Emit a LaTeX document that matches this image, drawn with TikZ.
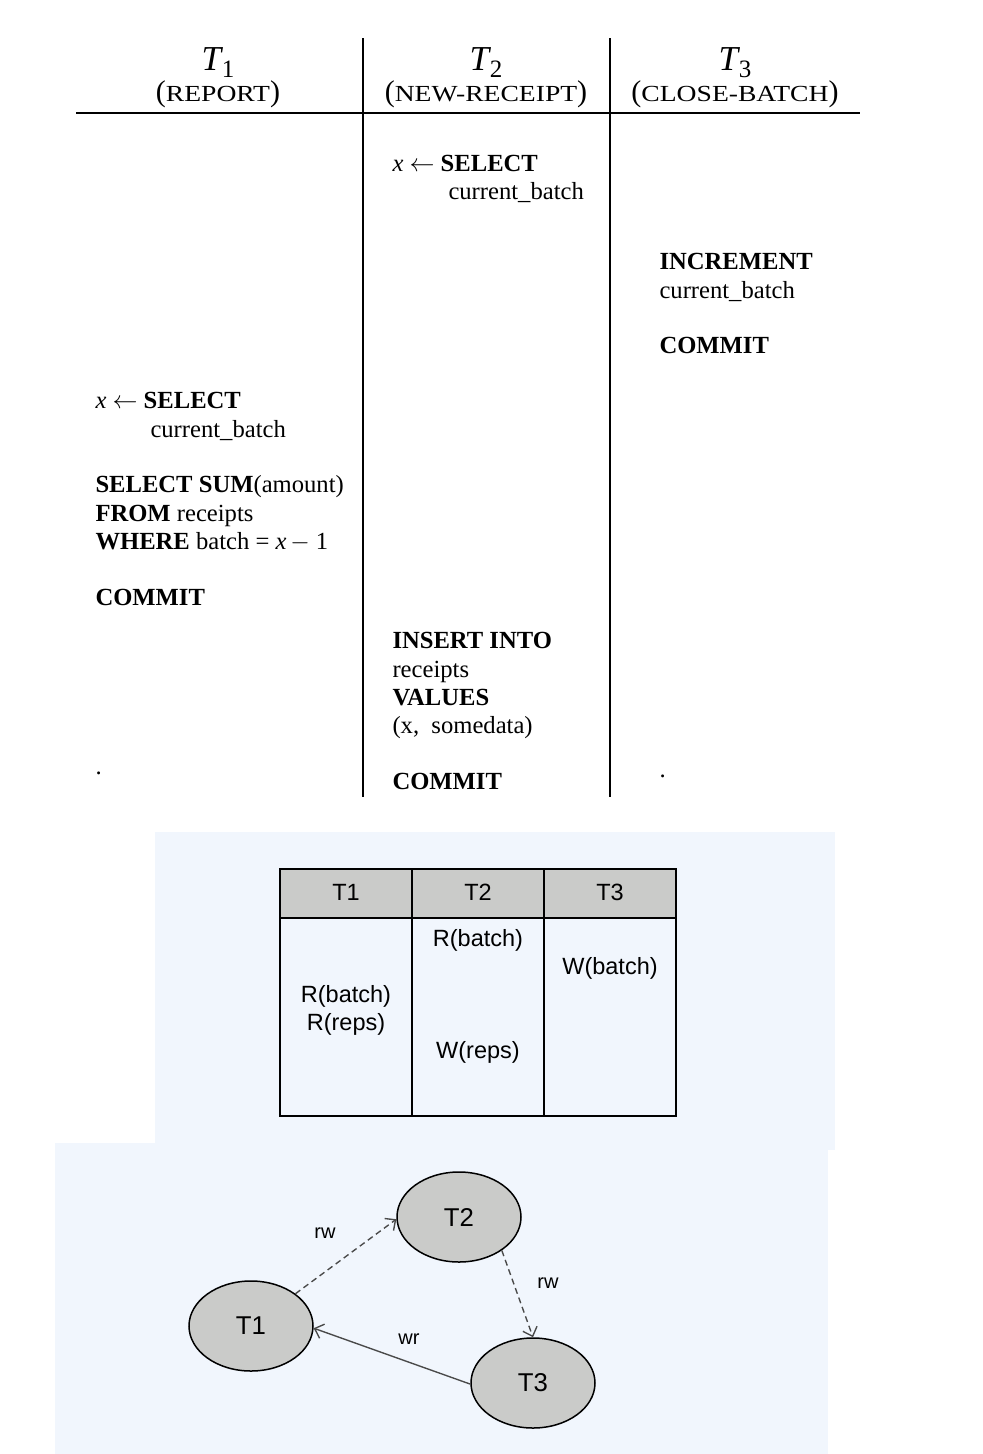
\documentclass[tikz,border=0pt]{standalone}
\usepackage{fontspec}
\setmainfont{Liberation Serif}
\setsansfont{Liberation Sans}
\newfontfamily\scfont[FakeStretch=1.2]{Liberation Serif}
\usetikzlibrary{arrows.meta,shapes.geometric}
\definecolor{bgblue}{HTML}{F1F6FD}
\definecolor{cellgray}{HTML}{CACBC9}
\definecolor{edgegray}{HTML}{4A4A4A}
\newcommand\hdrT[1]{{\fontsize{14}{14}\selectfont\textit{T}}\kern-0.6pt\raisebox{-2.8pt}{\fontsize{10}{10}\selectfont #1}}
\newcommand\hdrSC[1]{{\fontsize{12}{12}\selectfont (}{\scfont\fontsize{9.2}{9.2}\selectfont #1}{\fontsize{12}{12}\selectfont )}}
\begin{document}
\begin{tikzpicture}[x=0.4pt,y=-0.4pt,
  hdr/.style={anchor=base,inner sep=0pt,font=\fontsize{12}{12}\selectfont},
  code/.style={anchor=base west,inner sep=0pt,font=\fontsize{9.85}{11.4}\selectfont},
  rule/.style={line width=0.6pt,black},
  cell/.style={anchor=base,inner sep=0pt,font=\sffamily\fontsize{9.4}{9.4}\selectfont},
  txnode/.style={ellipse,draw=black,line width=0.6pt,fill=cellgray,minimum width=49.6pt,minimum height=36pt,inner sep=0pt,font=\sffamily\fontsize{10.3}{10.3}\selectfont},
  elabel/.style={anchor=base,inner sep=0pt,font=\sffamily\fontsize{8}{8}\selectfont},
  dep/.style={edgegray,line width=0.55pt,-{Straight Barb[length=3.2pt,width=6pt]}},
  depdash/.style={dep,dash pattern=on 2.4pt off 1.6pt}]
\useasboundingbox (0,0) rectangle (982,1454);
% ---------------- top schedule ----------------
\draw[rule] (76,113) -- (860,113);
\draw[rule] (363,38) -- (363,797);
\draw[rule] (610,38) -- (610,797);
\node[hdr] (h1) at (218,70) {\hdrT{1}};
\node[hdr] (h2) at (486,70) {\hdrT{2}};
\node[hdr] (h3) at (735,70) {\hdrT{3}};
\node[hdr] (n1) at (218,101) {\hdrSC{REPORT}};
\node[hdr] (n2) at (486,101) {\hdrSC{NEW-RECEIPT}};
\node[hdr] (n3) at (735,101) {\hdrSC{CLOSE-BATCH}};
% T2 first read
\node[code] (a1) at (392,171) {\textit{x} $\leftarrow$ \textbf{SELECT}};
\node[code] (a2) at (448,199) {current\_batch};
% T3
\node[code] (b1) at (659,269) {\textbf{INCREMENT}};
\node[code] (b2) at (659,298) {current\_batch};
\node[code] (b3) at (659,353) {\textbf{COMMIT}};
% T1
\node[code] (c1) at (95,408) {\textit{x} $\leftarrow$ \textbf{SELECT}};
\node[code] (c2) at (150,437) {current\_batch};
\node[code] (c3) at (95,492) {\textbf{SELECT SUM}(amount)};
\node[code] (c4) at (95,521) {\textbf{FROM} receipts};
\node[code] (c5) at (95,549) {\textbf{WHERE} batch = \textit{x}\kern1.5pt$-$\kern2.5pt1};
\node[code] (c6) at (95,605) {\textbf{COMMIT}};
\node[code] (c7) at (95,774) {.};
% T2 insert
\node[code] (d1) at (392,648) {\textbf{INSERT INTO}};
\node[code] (d2) at (392,677) {receipts};
\node[code] (d3) at (392,705) {\textbf{VALUES}};
\node[code] (d4) at (392,733) {(x,~~somedata)};
\node[code] (d5) at (392,789) {\textbf{COMMIT}};
\node[code] (e1) at (659,777) {.};
% ---------------- backgrounds ----------------
\fill[bgblue] (155,832) rectangle (835,1150);
\fill[bgblue] (55,1143) rectangle (828,1454);
% ---------------- table ----------------
\fill[cellgray] (280,869) rectangle (676,918);
\draw[line width=0.65pt] (280,869) rectangle (676,1116);
\draw[line width=0.65pt] (280,918) -- (676,918);
\draw[line width=0.65pt] (412,869) -- (412,1116);
\draw[line width=0.65pt] (544,869) -- (544,1116);
\node[cell] (t1) at (346,900) {T1};
\node[cell] (t2) at (478,900) {T2};
\node[cell] (t3) at (610,900) {T3};
\node[cell] (r2) at (478,946) {R(batch)};
\node[cell] (w3) at (610,974) {W(batch)};
\node[cell] (r1a) at (346,1002) {R(batch)};
\node[cell] (r1b) at (346,1030) {R(reps)};
\node[cell] (w2) at (478,1058) {W(reps)};
% ---------------- graph ----------------
\node[txnode] (G2) at (459,1217) {T2};
\node[txnode] (G1) at (251,1326) {T1};
\node[txnode] (G3) at (533,1383) {T3};
\draw[depdash] (G1.36) -- (G2.182);
\draw[depdash] (G2.-38) -- (G3.90);
\draw[dep] (G3.181) -- (G1.-2);
\node[elabel] (l1) at (325,1238) {rw};
\node[elabel] (l2) at (548,1288) {rw};
\node[elabel] (l3) at (409,1344) {wr};
\end{tikzpicture}
\end{document}
